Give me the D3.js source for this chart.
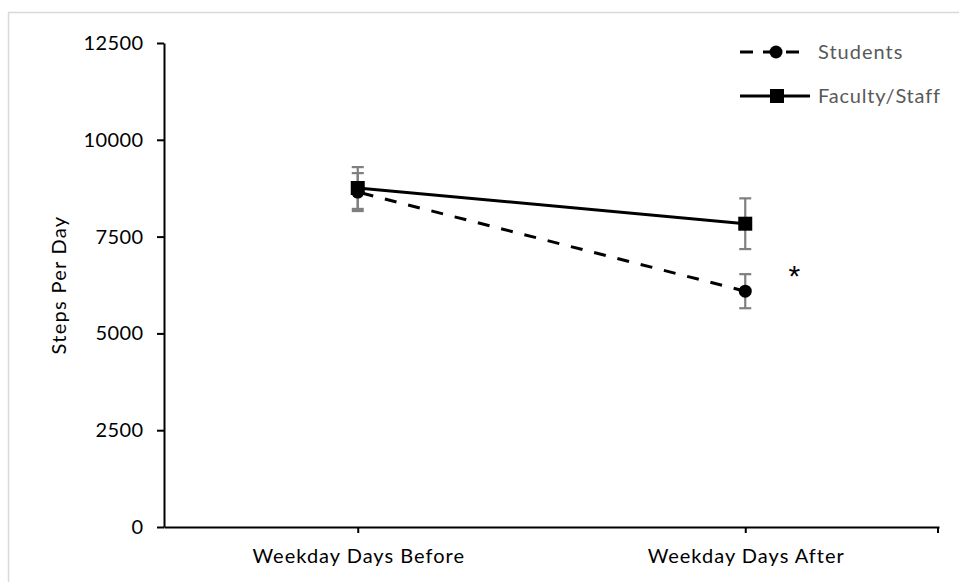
<!DOCTYPE html>
<html>
<head>
<meta charset="utf-8">
<script src="https://cdn.jsdelivr.net/npm/d3@7/dist/d3.min.js"></script>
<style>
  html, body { margin: 0; padding: 0; background: #fff; }
  svg { display: block; }
  text { font-family: Lato, "Open Sans", sans-serif; }
</style>
</head>
<body>
<svg id="chart" width="959" height="582"></svg>
<script>
const categories = ["Weekday Days Before", "Weekday Days After"];
const studentsMean = [8650, 6090];
const studentsErr = [490, 440];
const facultyMean = [8755, 7833];
const facultyErr = [540, 655];
const yTicks = [0, 2500, 5000, 7500, 10000, 12500];
const seriesNames = ["Students", "Faculty/Staff"];

const svg = d3.select("#chart");
const W = 959, H = 582;
const plotLeft = 164, plotRight = 939, plotTop = 43, plotBottom = 527;

// light frame (left and top edges)
svg.append("line").attr("x1", 8.5).attr("x2", 8.5).attr("y1", 12.5).attr("y2", H)
  .attr("stroke", "#d9d9d9").attr("stroke-width", 1.5);
svg.append("line").attr("x1", 8).attr("x2", W).attr("y1", 12.5).attr("y2", 12.5)
  .attr("stroke", "#d9d9d9").attr("stroke-width", 1.5);

const x = d3.scalePoint().domain(categories).range([plotLeft, plotRight]).padding(0.5);
const y = d3.scaleLinear().domain([0, 12500]).range([plotBottom, plotTop]);

// Y axis
const yAxis = d3.axisLeft(y).tickValues(yTicks).tickSize(7).tickSizeOuter(0).tickPadding(14)
  .tickFormat(d3.format("d"));
const gy = svg.append("g").attr("transform", `translate(${plotLeft},0)`).call(yAxis);
gy.select(".domain").attr("stroke", "#000").attr("stroke-width", 2);
gy.selectAll(".tick line").attr("stroke", "#000").attr("stroke-width", 2);
gy.selectAll(".tick text").attr("font-size", 20).attr("fill", "#000")
  .attr("letter-spacing", "0.4px").attr("dx", "0.4");

// X axis
const xAxis = d3.axisBottom(x).tickSize(6).tickSizeOuter(0).tickPadding(16);
const gx = svg.append("g").attr("transform", `translate(0,${plotBottom})`).call(xAxis);
gx.select(".domain").attr("stroke", "#000").attr("stroke-width", 2.2);
gx.selectAll(".tick line").attr("stroke", "#000").attr("stroke-width", 2);
gx.selectAll(".tick text").attr("font-size", 20).attr("fill", "#000")
  .attr("letter-spacing", "1px").attr("dx", "0.5");
// end tick at right of axis
gx.append("line").attr("x1", x.range()[1] - 1).attr("x2", x.range()[1] - 1)
  .attr("y1", 0).attr("y2", 6).attr("stroke", "#000").attr("stroke-width", 2);

// Y axis title
svg.append("text")
  .attr("transform", `translate(58,${(plotTop + plotBottom) / 2}) rotate(-90)`)
  .attr("text-anchor", "middle").attr("dominant-baseline", "central")
  .attr("font-size", 20).attr("letter-spacing", "1.3px").attr("fill", "#000")
  .text("Steps Per Day");

function errBars(means, errs) {
  const g = svg.append("g");
  categories.forEach((c, i) => {
    const cx = x(c), hi = y(means[i] + errs[i]), lo = y(means[i] - errs[i]);
    g.append("line").attr("x1", cx).attr("x2", cx).attr("y1", hi).attr("y2", lo)
      .attr("stroke", "#7f7f7f").attr("stroke-width", 2.2);
    [hi, lo].forEach(v => g.append("line").attr("x1", cx - 6).attr("x2", cx + 6)
      .attr("y1", v).attr("y2", v).attr("stroke", "#7f7f7f").attr("stroke-width", 2.2));
  });
}
errBars(facultyMean, facultyErr);
errBars(studentsMean, studentsErr);

const line = d3.line().x((d, i) => x(categories[i])).y(d => y(d));

// Faculty line (solid)
svg.append("path").datum(facultyMean).attr("d", line)
  .attr("fill", "none").attr("stroke", "#000").attr("stroke-width", 3);
// Students line (dashed)
svg.append("path").datum(studentsMean).attr("d", line)
  .attr("fill", "none").attr("stroke", "#000").attr("stroke-width", 3)
  .attr("stroke-dasharray", "12,12").attr("stroke-dashoffset", -4);

// markers
svg.append("g").selectAll("rect").data(facultyMean).join("rect")
  .attr("x", (d, i) => x(categories[i]) - 7).attr("y", d => y(d) - 7)
  .attr("width", 14).attr("height", 14).attr("fill", "#000");
svg.append("g").selectAll("circle").data(studentsMean).join("circle")
  .attr("cx", (d, i) => x(categories[i])).attr("cy", d => y(d))
  .attr("r", 6.5).attr("fill", "#000");

// significance star
svg.append("text").attr("x", x(categories[1]) + 49).attr("y", y(studentsMean[1]) - 5)
  .attr("text-anchor", "middle").attr("font-size", 30).attr("fill", "#000")
  .style("font-family", "'Liberation Sans', Arial, sans-serif").text("*");

// legend
const lg = svg.append("g");
lg.append("line").attr("x1", 740).attr("x2", 800).attr("y1", 52).attr("y2", 52)
  .attr("stroke", "#000").attr("stroke-width", 3).attr("stroke-dasharray", "13,10");
lg.append("circle").attr("cx", 776).attr("cy", 52).attr("r", 6.5).attr("fill", "#000");
lg.append("text").attr("x", 818).attr("y", 59).attr("letter-spacing", "1px")
  .attr("font-size", 20).attr("fill", "#595959").text(seriesNames[0]);
lg.append("line").attr("x1", 740).attr("x2", 810).attr("y1", 96).attr("y2", 96)
  .attr("stroke", "#000").attr("stroke-width", 3);
lg.append("rect").attr("x", 770).attr("y", 89).attr("width", 14).attr("height", 14).attr("fill", "#000");
lg.append("text").attr("x", 818).attr("y", 103).attr("letter-spacing", "0.8px")
  .attr("font-size", 20).attr("fill", "#595959").text(seriesNames[1]);
</script>
</body>
</html>
